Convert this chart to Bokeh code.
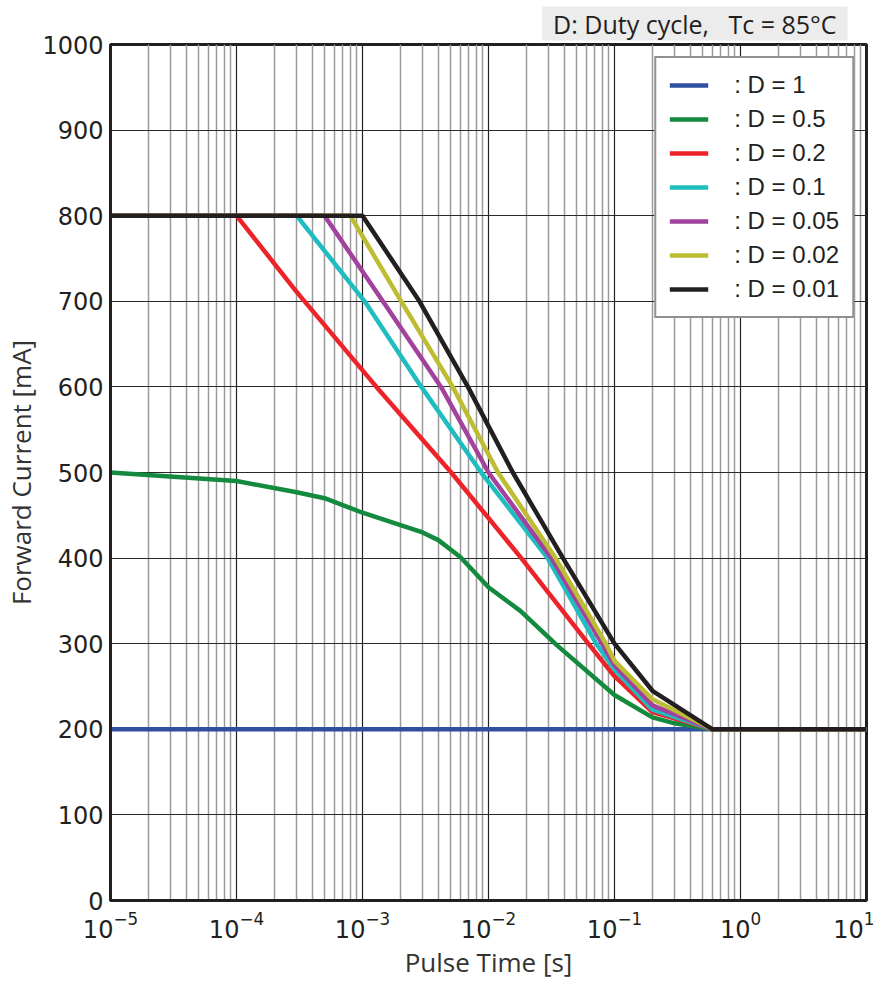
from bokeh.plotting import figure
from bokeh.models import (FixedTicker, Legend, LegendItem, Title, Range1d)
from bokeh.embed import file_html
from bokeh.resources import INLINE

# ---- data ----
t_d1 = [1e-5, 10]
i_d1 = [200, 200]

t_d05 = [1e-5, 1e-4, 3e-4, 5e-4, 1e-3, 3e-3, 4e-3, 6e-3, 1e-2, 1.8e-2, 3.5e-2, 0.1, 0.2, 0.3, 0.6, 10]
i_d05 = [500, 490, 477, 470, 453, 430, 421, 401, 366, 338, 298, 240, 214, 207, 200, 200]

t_d02 = [1e-5, 1e-4, 3e-4, 1.29e-3, 5.06e-3, 1.82e-2, 6.2e-2, 0.1, 0.2, 0.6, 10]
i_d02 = [800, 800, 711, 600, 500, 400, 300, 262, 220, 200, 200]

t_d01 = [1e-5, 3e-4, 1.04e-3, 2.93e-3, 8.75e-3, 2.95e-2, 7.16e-2, 0.1, 0.2, 0.6, 10]
i_d01 = [800, 800, 700, 600, 500, 400, 300, 270, 223, 200, 200]

t_d005 = [1e-5, 5e-4, 1.45e-3, 4.2e-3, 1e-2, 3.16e-2, 7.96e-2, 0.1, 0.2, 0.6, 10]
i_d005 = [800, 800, 700, 600, 500, 400, 300, 275, 228, 200, 200]

t_d002 = [1e-5, 8e-4, 2.03e-3, 5.2e-3, 1.19e-2, 3.4e-2, 8.53e-2, 0.1, 0.2, 0.6, 10]
i_d002 = [800, 800, 700, 600, 500, 400, 300, 280, 235, 200, 200]

t_d001 = [1e-5, 1e-3, 2.83e-3, 6.87e-3, 1.56e-2, 3.9e-2, 0.1, 0.2, 0.6, 10]
i_d001 = [800, 800, 700, 600, 500, 400, 300, 245, 200, 200]

series_labels = [": D = 1", ": D = 0.5", ": D = 0.2", ": D = 0.1", ": D = 0.05", ": D = 0.02", ": D = 0.01"]
series_colors = ["#2f4f9f", "#138a3e", "#ee2229", "#1fbcc0", "#a2429c", "#bdbd33", "#231f20"]

x_major = [1e-5, 1e-4, 1e-3, 1e-2, 1e-1, 1e0, 1e1]
x_minor = [k * 10.0 ** e for e in range(-5, 1) for k in range(2, 10)]
y_ticks = list(range(0, 1001, 100))

title_text = "D: Duty cycle, \u00a0 Tc = 85°C"

# ---- figure ----
title = Title(text=title_text, align="right", text_font="Open Sans",
              text_font_size="25px", text_font_style="normal", text_color="#231f20",
              background_fill_color="#ececec", padding=(11, 0), offset=19, standoff=8)

p = figure(x_axis_type="log", output_backend="svg", toolbar_location=None,
           frame_width=756, frame_height=856, title=title,
           min_border_left=105, min_border_right=8, min_border_top=41, min_border_bottom=80,
           x_range=Range1d(1e-5, 10), y_range=Range1d(0, 1000),
           x_axis_label="Pulse Time [s]", y_axis_label="Forward Current [mA]")
p.background_fill_color = "white"
p.border_fill_color = "white"
p.outline_line_color = "#231f20"
p.outline_line_width = 3

p.xaxis.ticker = FixedTicker(ticks=x_major, minor_ticks=x_minor)
p.yaxis.ticker = FixedTicker(ticks=y_ticks)

for ax in (p.xaxis[0], p.yaxis[0]):
    ax.axis_line_width = 3
    ax.axis_line_color = "#231f20"
    ax.major_tick_line_color = None
    ax.minor_tick_line_color = None
    ax.major_tick_out = 0
    ax.major_tick_in = 0
    ax.minor_tick_out = 0
    ax.minor_tick_in = 0
    ax.major_label_text_font = "DejaVu Sans"
    ax.major_label_text_font_size = "24px"
    ax.major_label_text_color = "#231f20"
    ax.axis_label_text_font = "Open Sans"
    ax.axis_label_text_font_size = "26px"
    ax.axis_label_text_font_style = "normal"
    ax.axis_label_text_color = "#333333"

p.yaxis.major_label_standoff = 7
p.yaxis.axis_label_standoff = 0
p.xaxis.major_label_standoff = 10
p.xaxis.axis_label_standoff = 3

p.xgrid.grid_line_color = "#222222"
p.xgrid.grid_line_width = 1.2
p.xgrid.minor_grid_line_color = "#9a9a9a"
p.xgrid.minor_grid_line_width = 1.5
p.ygrid.grid_line_color = "#2a2a2a"
p.ygrid.grid_line_width = 1.2

all_t = [t_d1, t_d05, t_d02, t_d01, t_d005, t_d002, t_d001]
all_i = [i_d1, i_d05, i_d02, i_d01, i_d005, i_d002, i_d001]

items = []
for t, i, lab, col in zip(all_t, all_i, series_labels, series_colors):
    r = p.line(t, i, line_color=col, line_width=4.5)
    items.append(LegendItem(label=lab, renderers=[r]))

legend = Legend(items=items, location="top_right", margin=12,
                padding=13, spacing=6, glyph_width=39, glyph_height=28,
                label_height=28, label_standoff=26,
                label_text_font="Liberation Sans", label_text_font_size="24px",
                label_text_color="#231f20",
                border_line_color="#231f20", border_line_width=2.5,
                background_fill_color="white", background_fill_alpha=1.0)
p.add_layout(legend)

open("out.html", "w").write(file_html(p, INLINE))
